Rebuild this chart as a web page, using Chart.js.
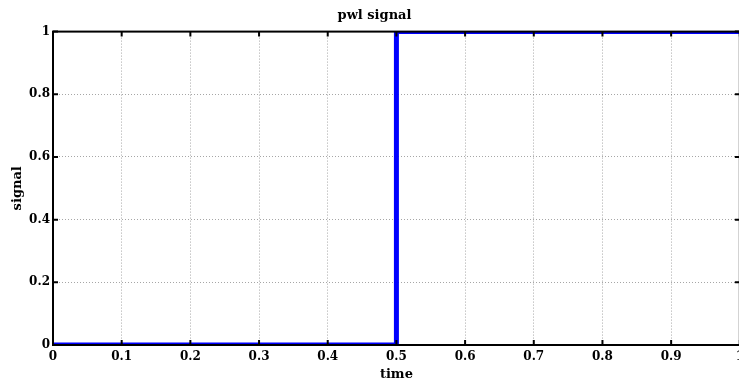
<!DOCTYPE html>
<html>
<head>
<meta charset="utf-8">
<script src="https://cdn.jsdelivr.net/npm/chart.js@4"></script>
<style>
  body { margin: 0; overflow: hidden; background: #fff; }
  #wrap { position: relative; width: 749px; height: 382px; }
</style>
</head>
<body>
<div id="wrap"><canvas id="pwl"></canvas></div>
<script>
// pwl breakpoints
var timeValues = [0, 0.5, 0.5, 1];
var signalValues = [0, 0, 1, 1];
var xTicks = [0, 0.1, 0.2, 0.3, 0.4, 0.5, 0.6, 0.7, 0.8, 0.9, 1];
var yTicks = [0, 0.2, 0.4, 0.6, 0.8, 1];

var serif = "'DejaVu Serif', serif";

// black box round the axes with short ticks pointing inward
var boxTicks = {
  id: "boxTicks",
  afterDraw(chart) {
    const { ctx, chartArea: a, scales: { x, y } } = chart;
    ctx.save();
    ctx.strokeStyle = "#000";
    ctx.lineWidth = 2;
    ctx.strokeRect(a.left, a.top, a.right - a.left, a.bottom - a.top);
    ctx.beginPath();
    xTicks.forEach(v => {
      const px = x.getPixelForValue(v);
      ctx.moveTo(px, a.bottom); ctx.lineTo(px, a.bottom - 5);
      ctx.moveTo(px, a.top); ctx.lineTo(px, a.top + 5);
    });
    yTicks.forEach(v => {
      const py = y.getPixelForValue(v);
      ctx.moveTo(a.left, py); ctx.lineTo(a.left + 5, py);
      ctx.moveTo(a.right, py); ctx.lineTo(a.right - 5, py);
    });
    ctx.stroke();
    ctx.restore();
  }
};

function fmt(v) {
  return String(v);
}

new Chart("pwl", {
  type: "line",
  data: {
    datasets: [{
      data: timeValues.map((t, i) => ({ x: t, y: signalValues[i] })),
      borderColor: "#0000ff",
      borderWidth: 5,
      pointRadius: 0,
      tension: 0,
      clip: 0
    }]
  },
  options: {
    animation: false,
    responsive: true,
    maintainAspectRatio: false,
    layout: { padding: 0 },
    plugins: {
      legend: { display: false },
      tooltip: { enabled: false },
      title: {
        display: true,
        text: "pwl signal",
        color: "#000",
        font: { family: serif, size: 13, weight: "bold" },
        padding: { top: 8, bottom: 8 }
      }
    },
    scales: {
      x: {
        type: "linear",
        min: 0,
        max: 1,
        afterBuildTicks: s => { s.ticks = xTicks.map(v => ({ value: v })); },
        afterFit: s => { s.height = 37; },
        ticks: {
          color: "#000",
          padding: 5,
          maxRotation: 0,
          autoSkip: false,
          font: { family: serif, size: 12, weight: "bold" },
          callback: fmt
        },
        grid: { color: "rgba(0,0,0,0.35)", lineWidth: 1, drawTicks: false },
        border: { display: false, dash: [1, 2] },
        title: {
          display: true,
          text: "time",
          color: "#000",
          padding: 0,
          font: { family: serif, size: 13, weight: "bold" }
        }
      },
      y: {
        min: 0,
        max: 1,
        afterBuildTicks: s => { s.ticks = yTicks.map(v => ({ value: v })); },
        afterFit: s => { s.width = 53; },
        ticks: {
          color: "#000",
          padding: 3,
          font: { family: serif, size: 12, weight: "bold" },
          callback: fmt
        },
        grid: { color: "rgba(0,0,0,0.35)", lineWidth: 1, drawTicks: false },
        border: { display: false, dash: [1, 2] },
        title: {
          display: true,
          text: "signal",
          color: "#000",
          padding: { top: 10, bottom: 0 },
          font: { family: serif, size: 13, weight: "bold" }
        }
      }
    }
  },
  plugins: [boxTicks]
});
</script>
</body>
</html>
